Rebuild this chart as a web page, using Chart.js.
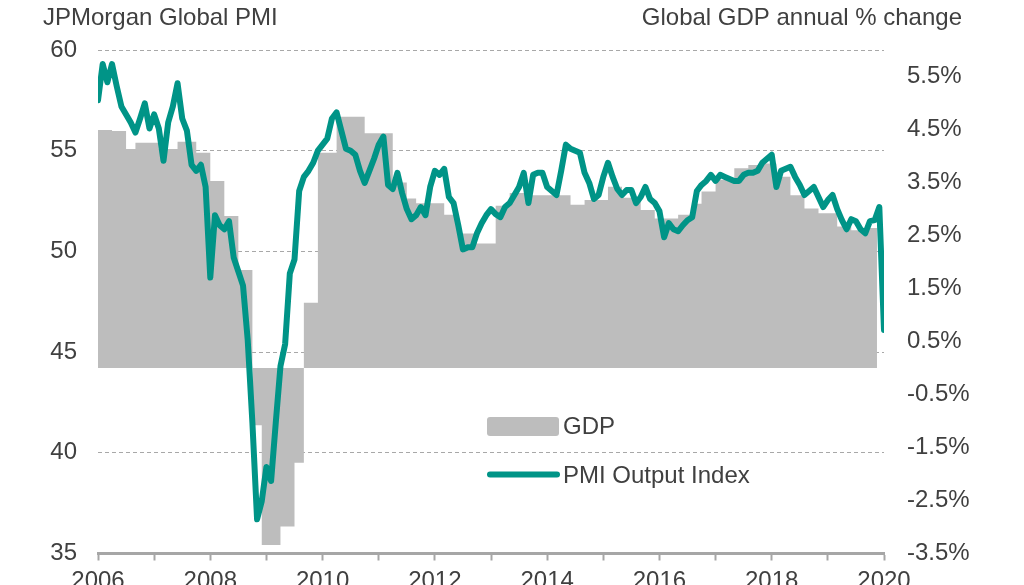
<!DOCTYPE html>
<html>
<head>
<meta charset="utf-8">
<script src="https://cdn.jsdelivr.net/npm/chart.js@4.4.1/dist/chart.umd.min.js"></script>
<style>
  html, body { margin: 0; padding: 0; background: #ffffff; overflow: hidden; }
  #wrap { width: 1024px; height: 585px; overflow: hidden; }
  canvas { display: block; }
</style>
</head>
<body>
<div id="wrap"><canvas id="c" width="1024" height="600"></canvas></div>
<script>
// ---- Data ----
// Tick years on the x axis
const tickYears = [2006, 2007, 2008, 2009, 2010, 2011, 2012, 2013, 2014, 2015, 2016, 2017, 2018, 2019, 2020];
// Right-axis tick labels (GDP % change)
const gdpTicks = [-3.5, -2.5, -1.5, -0.5, 0.5, 1.5, 2.5, 3.5, 4.5, 5.5];
// Left-axis ticks (PMI)
const pmiTicks = [35, 40, 45, 50, 55, 60];

// JPMorgan Global PMI Output Index, monthly from Jan 2006
const pmiOutput = [
  57.5, 59.3, 58.4, 59.3, 58.2, 57.2, 56.8, 56.4, 55.9, 56.6, 57.35, 56.1,
  56.8, 56.1, 54.5, 56.4, 57.2, 58.35, 56.6, 56.0, 54.3, 54.0, 54.3, 53.2,
  48.7, 51.8, 51.3, 51.1, 51.5, 49.7, 49.0, 48.3, 45.6, 41.5, 36.7, 37.6,
  39.3, 38.6, 41.5, 44.3, 45.4, 48.9, 49.6, 53.0, 53.7, 54.0, 54.4, 55.0,
  55.3, 55.6, 56.6, 56.9, 56.0, 55.1, 55.0, 54.8, 54.0, 53.4, 54.0, 54.6,
  55.3, 55.7, 53.3, 53.1, 53.9, 52.9, 52.1, 51.6, 51.8, 52.2, 51.8, 53.2,
  54.0, 53.8, 54.1, 52.7, 52.4, 51.3, 50.1, 50.2, 50.2, 50.9, 51.4, 51.8,
  52.1, 51.85, 51.7, 52.2, 52.4, 52.8, 53.2, 53.9, 52.4, 53.8, 53.9, 53.9,
  53.2, 53.0, 52.8, 54.0, 55.3, 55.1, 55.0, 54.9, 53.9, 53.4, 52.6, 52.8,
  53.7, 54.4, 53.7, 53.1, 52.8, 53.05, 53.05, 52.4, 52.7, 53.2, 52.6, 52.4,
  52.0, 50.7, 51.4, 51.1, 51.0, 51.3, 51.55, 51.7, 53.0, 53.3, 53.5, 53.8,
  53.5, 53.8, 53.7, 53.6, 53.5, 53.5, 53.8, 53.9, 53.9, 54.0, 54.4, 54.6,
  54.8, 53.2, 54.0, 54.1, 54.2, 53.7, 53.3, 52.8, 53.0, 53.2, 52.7, 52.2,
  52.55, 52.8, 52.1, 51.55, 51.1, 51.6, 51.5, 51.1, 50.9, 51.5, 51.55, 52.2,
  46.1
];

// Global GDP annual % change: month (since Jan 2006) at which each reading starts
const gdpStartMonth = [0, 3, 6, 8, 13, 17, 21, 24, 27, 30,
  33, 35, 39, 42, 44, 47, 51, 57, 63, 66,
  68, 74, 77, 81, 85, 88, 92, 101, 104, 109,
  112, 116, 119, 124, 127, 129, 132, 136, 139, 142,
  145, 148, 151, 154, 158, 161, 165];
const gdpValue = [4.49, 4.47, 4.13, 4.25, 4.13, 4.27, 4.06, 3.53, 2.87, 1.85,
  -1.08, -3.34, -2.99, -1.79, 1.23, 4.06, 4.74, 4.43, 3.5, 3.2,
  3.11, 2.89, 2.54, 2.35, 3.06, 3.30, 3.26, 3.08, 3.17, 3.42,
  3.21, 2.98, 2.82, 2.89, 3.1, 3.33, 3.55, 3.77, 3.83, 3.86,
  3.61, 3.26, 3.01, 2.92, 2.67, 2.60, 2.64];
const gdpEndMonth = 166.5;

const seriesNames = ['GDP', 'PMI Output Index'];
const leftTitle = 'JPMorgan Global PMI';
const rightTitle = 'Global GDP annual % change';

// ---- Build chart ----
const TEAL = '#009487';
const GREY = '#bdbdbd';
const TEXT = '#404040';
const FONT = "'Liberation Sans', Arial, Helvetica, sans-serif";

Chart.defaults.font.family = FONT;
Chart.defaults.font.size = 24;
Chart.defaults.color = TEXT;

const pmiPoints = pmiOutput.map((v, i) => ({ x: i, y: v }));
const gdpPoints = gdpStartMonth.map((m, i) => ({ x: m, y: gdpValue[i] }));
gdpPoints.push({ x: gdpEndMonth, y: gdpValue[gdpValue.length - 1] });

const CANVAS_W = 1024, CANVAS_H = 600;
const AREA_LEFT = 98, AREA_RIGHT = 884, AREA_TOP = 50, AREA_BOTTOM = 553.5;

const overlayPlugin = {
  id: 'overlay',
  afterDraw(chart) {
    const ctx = chart.ctx;
    ctx.save();
    ctx.fillStyle = TEXT;
    ctx.font = '24px ' + FONT;
    ctx.textBaseline = 'alphabetic';
    ctx.textAlign = 'left';
    ctx.fillText(leftTitle, 43, 25);
    ctx.textAlign = 'right';
    ctx.fillText(rightTitle, 962, 25);

    // legend
    ctx.textAlign = 'left';
    // GDP swatch
    ctx.fillStyle = GREY;
    const r = 3, bx = 487, by = 417, bw = 72, bh = 19;
    ctx.beginPath();
    ctx.moveTo(bx + r, by);
    ctx.lineTo(bx + bw - r, by);
    ctx.quadraticCurveTo(bx + bw, by, bx + bw, by + r);
    ctx.lineTo(bx + bw, by + bh - r);
    ctx.quadraticCurveTo(bx + bw, by + bh, bx + bw - r, by + bh);
    ctx.lineTo(bx + r, by + bh);
    ctx.quadraticCurveTo(bx, by + bh, bx, by + bh - r);
    ctx.lineTo(bx, by + r);
    ctx.quadraticCurveTo(bx, by, bx + r, by);
    ctx.fill();
    ctx.fillStyle = TEXT;
    ctx.fillText(seriesNames[0], 563, 434);
    // PMI swatch
    ctx.strokeStyle = TEAL;
    ctx.lineWidth = 6;
    ctx.lineCap = 'round';
    ctx.beginPath();
    ctx.moveTo(490, 474.5);
    ctx.lineTo(557, 474.5);
    ctx.stroke();
    ctx.fillText(seriesNames[1], 563, 483);
    ctx.restore();
  }
};

new Chart(document.getElementById('c'), {
  type: 'line',
  data: {
    datasets: [
      {
        label: seriesNames[0],
        data: gdpPoints,
        yAxisID: 'y1',
        stepped: true,
        fill: 'origin',
        backgroundColor: GREY,
        borderColor: 'rgba(0,0,0,0)',
        borderWidth: 0,
        pointRadius: 0,
        order: 2
      },
      {
        label: seriesNames[1],
        data: pmiPoints,
        yAxisID: 'y',
        borderColor: TEAL,
        borderWidth: 6,
        borderJoinStyle: 'round',
        borderCapStyle: 'round',
        pointRadius: 0,
        tension: 0,
        fill: false,
        order: 1
      }
    ]
  },
  options: {
    responsive: false,
    animation: false,
    devicePixelRatio: 1,
    layout: { padding: { top: AREA_TOP, left: 0, right: 0, bottom: 0 } },
    plugins: {
      legend: { display: false },
      tooltip: { enabled: false },
      title: { display: false }
    },
    scales: {
      x: {
        type: 'linear',
        position: 'bottom',
        min: 0,
        max: (tickYears[tickYears.length - 1] - tickYears[0]) * 12,
        afterBuildTicks(scale) {
          scale.ticks = tickYears.map((y, i) => ({ value: i * 12 }));
        },
        afterFit(scale) { scale.height = CANVAS_H - AREA_BOTTOM; },
        ticks: {
          autoSkip: false,
          maxRotation: 0,
          minRotation: 0,
          padding: 6,
          color: TEXT,
          font: { size: 24 },
          callback(value) {
            const yr = tickYears[0] + Math.round(value / 12);
            return yr % 2 === 0 ? String(yr) : '';
          }
        },
        grid: {
          drawOnChartArea: false,
          drawTicks: true,
          tickLength: 7,
          tickWidth: 2,
          tickColor: '#a6a6a6'
        },
        border: { display: true, color: '#a6a6a6', width: 3 }
      },
      y: {
        type: 'linear',
        position: 'left',
        min: pmiTicks[0],
        max: pmiTicks[pmiTicks.length - 1],
        afterBuildTicks(scale) {
          scale.ticks = pmiTicks.map(v => ({ value: v }));
        },
        afterFit(scale) { scale.width = AREA_LEFT; },
        ticks: { padding: 21, color: TEXT, font: { size: 24 } },
        grid: {
          drawTicks: false,
          color: '#a8a8a8',
          lineWidth: 1
        },
        border: { display: false, dash: [4, 3] }
      },
      y1: {
        type: 'linear',
        position: 'right',
        min: -3.5,
        max: 6.0,
        afterBuildTicks(scale) {
          scale.ticks = gdpTicks.map(v => ({ value: v }));
        },
        afterFit(scale) { scale.width = CANVAS_W - AREA_RIGHT; },
        ticks: {
          padding: 23,
          color: TEXT,
          font: { size: 24 },
          callback(value) { return value.toFixed(1) + '%'; }
        },
        grid: { display: false, drawTicks: false },
        border: { display: false }
      }
    }
  },
  plugins: [overlayPlugin]
});
</script>
</body>
</html>
